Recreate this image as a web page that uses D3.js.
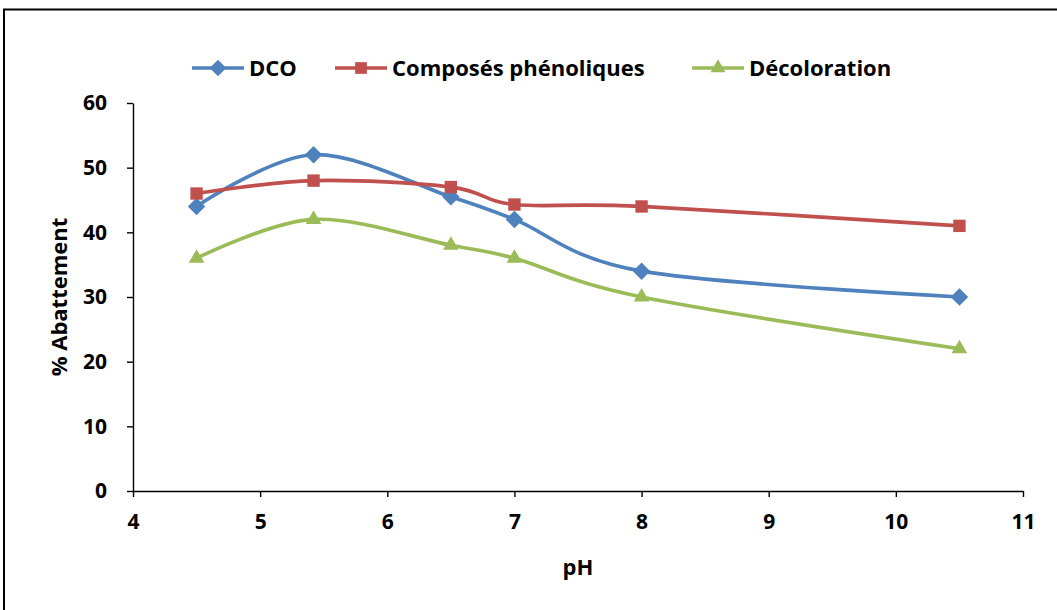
<!DOCTYPE html>
<html lang="fr">
<head>
  <meta charset="UTF-8" />
  <title>% Abattement vs pH</title>
  <script src="https://d3js.org/d3.v7.min.js"></script>
  <style>
    body { margin: 0; background: #fff; }
    svg { display: block; font-family: "Open Sans", Lato, sans-serif; font-weight: bold; }
    .axis path, .axis line { stroke: #000; stroke-width: 1.4px; }
    .axis text { font-size: 21px; font-weight: bold; fill: #000; font-family: "Open Sans", sans-serif; }
    .serie { fill: none; stroke-width: 3.7px; }
  </style>
</head>
<body>
  <svg id="chart" width="1057" height="610"></svg>

  <script>
    // data
    const pH = [4.5, 5.42, 6.5, 7, 8, 10.5];
    const dco = [44, 52, 45.5, 42, 34, 30];
    const phenol = [46, 48, 47, 44.3, 44, 41];
    const decolor = [36, 42, 38, 36, 30, 22];
    const seriesNames = ['DCO', 'Composés phénoliques', 'Décoloration'];
    const seriesColors = ['#4F81BD', '#C0504D', '#9BBB59'];
    const seriesSymbols = [d3.symbolDiamond2, d3.symbolSquare2, d3.symbolTriangle2];
    const xTicks = [4, 5, 6, 7, 8, 9, 10, 11];
    const yTicks = [0, 10, 20, 30, 40, 50, 60];

    const series = [dco, phenol, decolor].map((vals, i) => ({
      name: seriesNames[i], color: seriesColors[i], symbol: seriesSymbols[i],
      points: vals.map((v, j) => ({ x: pH[j], y: v }))
    }));

    const svg = d3.select('#chart');
    const x = d3.scaleLinear().domain([4, 11]).range([133, 1023]);
    const y = d3.scaleLinear().domain([0, 60]).range([491, 103]);

    // outer frame (right/bottom edges fall outside the picture)
    svg.append('rect').attr('x', 4).attr('y', 9.5).attr('width', 1080).attr('height', 640)
      .attr('fill', 'none').attr('stroke', '#000').attr('stroke-width', 2);

    svg.append('g').attr('class', 'axis').attr('transform', 'translate(0,491)')
      .call(d3.axisBottom(x).tickValues(xTicks).tickFormat(d3.format('d'))
        .tickSize(6).tickPadding(17).tickSizeOuter(0));
    svg.append('g').attr('class', 'axis').attr('transform', 'translate(133,0)')
      .call(d3.axisLeft(y).tickValues(yTicks).tickFormat(d3.format('d'))
        .tickSize(6).tickPadding(20).tickSizeOuter(0));

    svg.append('text').attr('x', 578).attr('y', 575).attr('text-anchor', 'middle')
      .attr('font-size', 22).text('pH');
    svg.append('text').attr('transform', 'translate(67,297) rotate(-90)').attr('text-anchor', 'middle')
      .attr('font-size', 22).text('% Abattement');

    const line = d3.line().x(d => x(d.x)).y(d => y(d.y)).curve(d3.curveCardinal.tension(0));

    series.forEach(s => {
      svg.append('path').attr('class', 'serie').attr('stroke', s.color).attr('d', line(s.points));
    });
    series.forEach(s => {
      svg.selectAll(null).data(s.points).enter().append('path')
        .attr('transform', d => `translate(${x(d.x)},${y(d.y)})`)
        .attr('d', d3.symbol().type(s.symbol).size(s.symbol === d3.symbolTriangle2 ? 175 : 195))
        .attr('fill', s.color);
    });

    // legend
    const legendX = [192, 335, 692];
    series.forEach((s, i) => {
      const g = svg.append('g').attr('transform', `translate(${legendX[i]},68)`);
      g.append('line').attr('x1', 0).attr('x2', 52).attr('stroke', s.color).attr('stroke-width', 3.7);
      g.append('path').attr('transform', 'translate(26,0)')
        .attr('d', d3.symbol().type(s.symbol).size(s.symbol === d3.symbolTriangle2 ? 160 : 175))
        .attr('fill', s.color);
      g.append('text').attr('x', 57).attr('y', 8).attr('font-size', 22).text(s.name);
    });
  </script>
</body>
</html>
